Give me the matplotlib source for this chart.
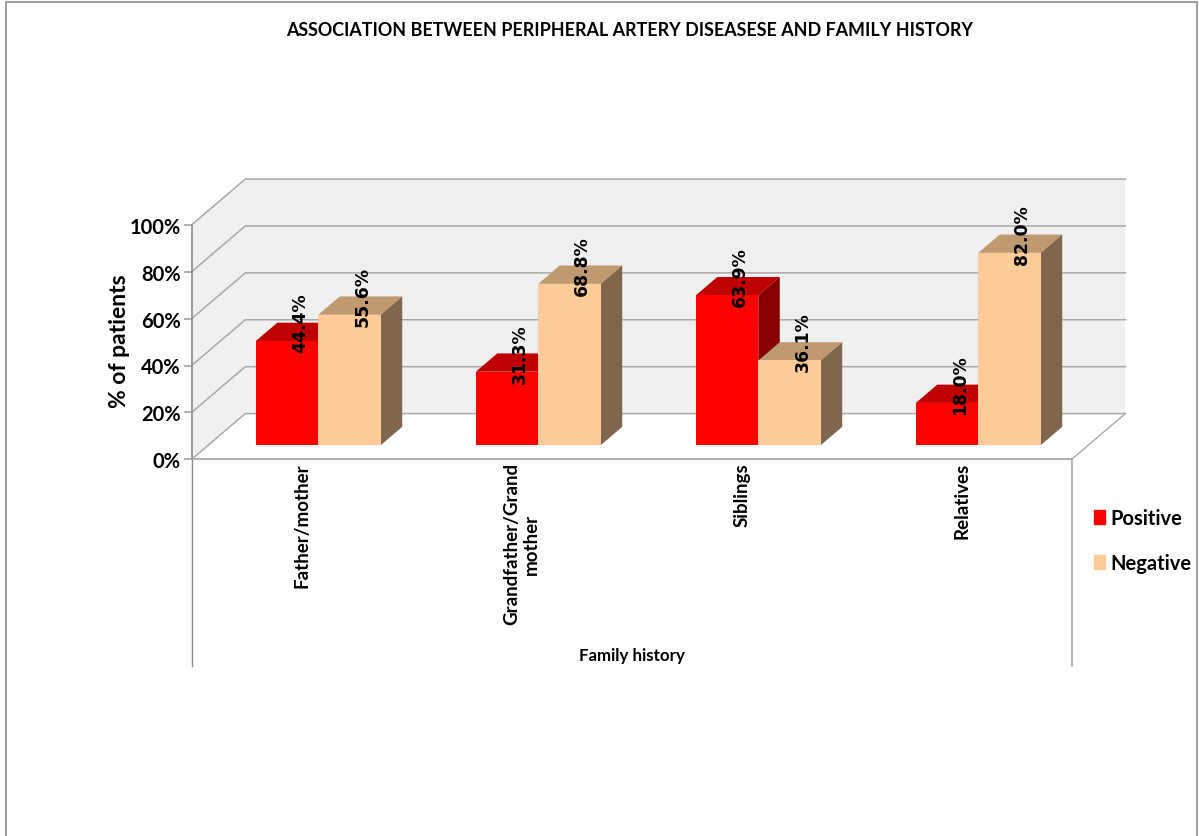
import matplotlib
matplotlib.use('Agg')
import numpy as np
import matplotlib.pyplot as plt
from matplotlib.lines import Line2D
from matplotlib.patches import Patch, Polygon

# Family history data, % of patients
categories = ['Father/mother', 'Grandfather/Grand\nmother', 'Siblings', 'Relatives']
positive = [44.4, 31.3, 63.9, 18.0]
negative = [55.6, 68.8, 36.1, 82.0]
yticks = [0, 20, 40, 60, 80, 100]

# Box depth in data units, used to fake the 3D look
depth_x = 0.2436
depth_y = 19.5
bar_front = 0.31
bar_back = 0.71
bar_w = 0.284
box_drop = -88.3  # where the category label box ends, below 0%

W, H = 1199, 837
fig = plt.figure(figsize=(W / 100, H / 100), dpi=100)
plt.rcParams['font.family'] = ['Lato', 'DejaVu Sans']
ax = fig.add_axes([191.7 / W, 1 - 460.3 / H, 880 / W, 234.5 / H])
ax.set_xlim(-0.5, 3.5)
ax.set_ylim(0, 100)
ax.patch.set_visible(False)

grid = '#a8a8a8'
wall = '#f0f0f0'


def shift(x, y, d):
    return (x + d * depth_x, y + d * depth_y)


def face(pts, color, z):
    ax.add_patch(Polygon(pts, closed=True, fc=color, ec='none', clip_on=False, zorder=z))


# side wall and back wall
face([shift(-0.5, 0, 0), shift(-0.5, 0, 1), shift(-0.5, 100, 1), shift(-0.5, 100, 0)], wall, 1)
face([shift(-0.5, 0, 1), shift(3.5, 0, 1), shift(3.5, 100, 1), shift(-0.5, 100, 1)], wall, 1)
for t in yticks:
    a, b, c = shift(-0.5, t, 0), shift(-0.5, t, 1), shift(3.5, t, 1)
    ax.plot([a[0], b[0], c[0]], [a[1], b[1], c[1]], color=grid, lw=1.1, clip_on=False, zorder=2)

# floor edge on the right
a, b = shift(3.5, 0, 0), shift(3.5, 0, 1)
ax.plot([a[0], b[0]], [a[1], b[1]], color=grid, lw=1.0, clip_on=False, zorder=2)

# box around the category labels
ax.plot([-0.5, -0.5], [box_drop, 0], color='#8c8c8c', lw=1.0, clip_on=False, zorder=2)
ax.plot([3.5, 3.5], [box_drop, 0], color='#a8a8a8', lw=1.2, clip_on=False, zorder=2)


def bars(x, vals, front, top, side, z, label):
    x0, y0 = shift(x, 0, bar_front)
    ax.bar(x0 + bar_w / 2 * label, vals, bar_w, bottom=y0, color=front, clip_on=False, zorder=z + 1)
    for xi, v in zip(x, vals):
        l, r = xi - bar_w if label < 0 else xi, xi if label < 0 else xi + bar_w
        face([shift(l, v, bar_front), shift(r, v, bar_front),
              shift(r, v, bar_back), shift(l, v, bar_back)], top, z)
        face([shift(r, 0, bar_front), shift(r, 0, bar_back),
              shift(r, v, bar_back), shift(r, v, bar_front)], side, z)


x = np.arange(len(categories))
bars(x, positive, '#ff0000', '#bf0000', '#860000', 3, -1)
bars(x, negative, '#ffcc99', '#bf9970', '#7f664c', 5, 1)

# value labels, rotated and sitting over the bar tops
for xi, p, n in zip(x, positive, negative):
    for v, sgn in ((p, -1), (n, 1)):
        px, py = shift(xi + sgn * bar_w / 2, v, (bar_front + bar_back) / 2)
        ax.annotate('%.1f%%' % v, (px, py), xytext=(1.5, 7), textcoords='offset points',
                    rotation=90, ha='center', va='center', fontsize=12.4, fontweight='bold',
                    family='DejaVu Sans', color='black', zorder=10, annotation_clip=False)

# axes
ax.set_yticks(yticks)
ax.set_yticklabels(['%d%%' % t for t in yticks], fontsize=14.5, fontweight='bold')
ax.set_xticks(x)
ax.set_xticklabels(categories, rotation=90, ha='center', va='top', ma='center',
                   fontsize=13.5, fontweight='bold')
ax.tick_params(axis='y', length=6, width=1.3, color=grid, pad=2)
ax.tick_params(axis='x', length=0, pad=2)
for s in ['top', 'right']:
    ax.spines[s].set_visible(False)
ax.spines['left'].set_color('#8c8c8c')
ax.spines['left'].set_linewidth(1.2)
ax.spines['bottom'].set_color(grid)
ax.spines['bottom'].set_linewidth(1.3)

ax.set_ylabel('% of patients', fontsize=16.5, fontweight='bold')
ax.yaxis.set_label_coords(-62 / 880, 0.51)
ax.set_xlabel('Family history', fontsize=12.2, fontweight='bold')
ax.xaxis.set_label_coords(0.5, -188 / 234.5)

fig.suptitle('ASSOCIATION BETWEEN PERIPHERAL ARTERY DISEASESE AND FAMILY HISTORY',
             x=630 / W, y=1 - 30.5 / H, va='center', fontsize=12.85, fontweight='bold')

handles = [Patch(color='#ff0000', label='Positive'), Patch(color='#ffcc99', label='Negative')]
fig.legend(handles=handles, loc='upper left', bbox_to_anchor=(1086 / W, 1 - 501 / H), frameon=False,
           prop={'size': 14.5, 'weight': 'bold'}, handlelength=0.55, handleheight=0.65,
           handletextpad=0.25, labelspacing=1.25, borderpad=0.4, borderaxespad=0)

# outer frame, open at the bottom
fig.add_artist(Line2D([6 / W, 6 / W, 1196.5 / W, 1196.5 / W], [0, 1 - 3 / H, 1 - 3 / H, 0],
                      color='#8c8c8c', lw=1.2, transform=fig.transFigure))

fig.savefig('out.png', dpi=100)
